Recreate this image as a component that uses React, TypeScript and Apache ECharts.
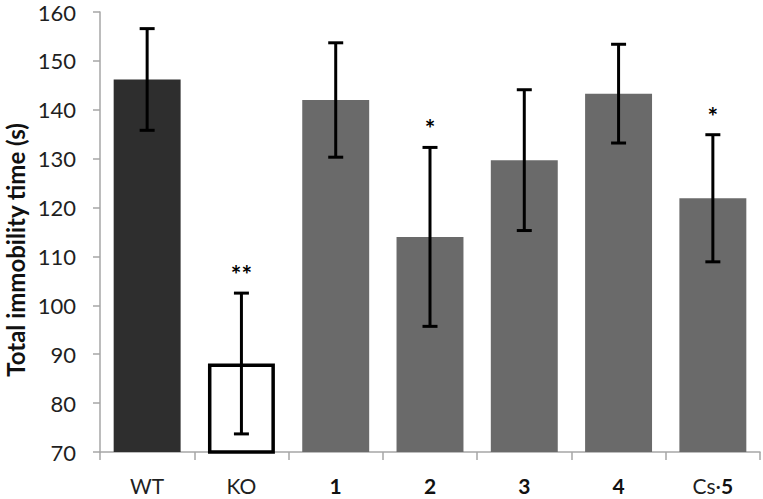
import React, { useEffect, useRef } from "react";
import * as echarts from "echarts";

const categories = ["WT", "KO", "1", "2", "3", "4", "Cs·5"];
const means = [146.2, 88.1, 142.0, 114.0, 129.7, 143.3, 121.9];
const errors = [10.4, 14.4, 11.7, 18.3, 14.4, 10.1, 13.0];
const stars = ["", "**", "", "*", "", "", "*"];
const yTicks = { min: 70, max: 160, interval: 10 };
const yTitle = "Total immobility time (s)";

const FONT = "Lato, 'Open Sans', sans-serif";

export default function App() {
  const ref = useRef<HTMLDivElement>(null);

  useEffect(() => {
    if (!ref.current) return;
    const chart = echarts.init(ref.current, null, { renderer: "svg" });

    const barData = means.map((v, i) => {
      if (categories[i] === "WT") {
        return { value: v, itemStyle: { color: "#2e2e2e" } };
      }
      if (categories[i] === "KO") {
        return {
          value: v,
          itemStyle: { color: "#ffffff", borderColor: "#000000", borderWidth: 3.5 },
        };
      }
      return { value: v, itemStyle: { color: "#6a6a6a" } };
    });

    const errData = means.map((v, i) => [i, v, errors[i], stars[i]]);

    const option: any = {
      animation: false,
      backgroundColor: "#ffffff",
      grid: { left: 100, right: 3, top: 12, bottom: 47 },
      xAxis: {
        type: "category",
        data: categories,
        axisLine: { lineStyle: { color: "#a6a6a6", width: 1.5 } },
        axisTick: { show: true, length: 8, lineStyle: { color: "#a6a6a6", width: 1.5 } },
        axisLabel: {
          interval: 0,
          margin: 23,
          fontFamily: FONT,
          fontSize: 21,
          color: "#1f1f1f",
          formatter: (val: string) => {
            const m = val.match(/^(.*?)(\d+)$/);
            if (!m) return "{n|" + val + "}";
            return (m[1] ? "{n|" + m[1] + "}" : "") + "{b|" + m[2] + "}";
          },
          rich: {
            n: { fontFamily: FONT, fontSize: 21, color: "#1f1f1f" },
            b: { fontFamily: FONT, fontSize: 21, fontWeight: "bold", color: "#111111" },
          },
        },
      },
      yAxis: {
        type: "value",
        min: yTicks.min,
        max: yTicks.max,
        interval: yTicks.interval,
        splitLine: { show: false },
        axisLine: { show: true, lineStyle: { color: "#a6a6a6", width: 1.5 } },
        axisTick: { show: true, length: 7, lineStyle: { color: "#a6a6a6", width: 1.5 } },
        axisLabel: {
          margin: 24,
          fontFamily: FONT,
          fontSize: 22,
          color: "#1f1f1f",
        },
      },
      graphic: [
        {
          type: "text",
          x: 15,
          y: 250,
          rotation: Math.PI / 2,
          style: {
            text: yTitle,
            fontFamily: FONT,
            fontSize: 24,
            fontWeight: "bold",
            fill: "#111111",
            align: "center",
            verticalAlign: "middle",
          },
        },
      ],
      series: [
        {
          type: "bar",
          data: barData,
          barWidth: "71%",
          silent: true,
        },
        {
          type: "custom",
          silent: true,
          clip: false,
          data: errData,
          encode: { x: 0, y: 1 },
          renderItem: (params: any, api: any) => {
            const idx = api.value(0);
            const mean = api.value(1);
            const err = api.value(2);
            const star = errData[params.dataIndex][3] as string;
            const top = api.coord([idx, mean + err]);
            const bot = api.coord([idx, mean - err]);
            const cap = 7.5;
            const ls = { stroke: "#000000", lineWidth: 3 };
            const children: any[] = [
              { type: "line", shape: { x1: top[0], y1: top[1], x2: bot[0], y2: bot[1] }, style: ls },
              { type: "line", shape: { x1: top[0] - cap, y1: top[1], x2: top[0] + cap, y2: top[1] }, style: ls },
              { type: "line", shape: { x1: bot[0] - cap, y1: bot[1], x2: bot[0] + cap, y2: bot[1] }, style: ls },
            ];
            if (star) {
              children.push({
                type: "text",
                style: {
                  text: star,
                  x: top[0],
                  y: top[1] - 19,
                  align: "center",
                  verticalAlign: "middle",
                  fontFamily: FONT,
                  fontSize: 25,
                  fontWeight: "bold",
                  fill: "#000000",
                },
              });
            }
            return { type: "group", children };
          },
          z: 5,
        },
      ],
    };

    chart.setOption(option);
    return () => chart.dispose();
  }, []);

  return (
    <div
      ref={ref}
      style={{ position: "fixed", left: 0, top: 0, width: 763, height: 499, background: "#fff" }}
    />
  );
}
